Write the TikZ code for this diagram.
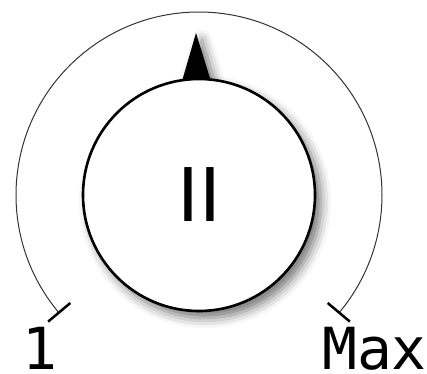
\documentclass[tikz,border=0pt]{standalone}
\usepackage{fontspec}
\setmainfont{DejaVu Sans}
\newfontfamily\monofont{DejaVu Sans Mono}
\usetikzlibrary{calc,shadows.blur}

\tikzset{
  knobshadow/.style={blur shadow={shadow xshift=6pt, shadow yshift=-7pt, shadow blur radius=10pt, shadow opacity=55}},
  scaletick/.style={line width=2.5pt, black},
  scalelabel/.style={anchor=base, inner sep=0pt, font=\monofont\fontsize{58}{58}\selectfont}
}

\begin{document}
\begin{tikzpicture}[x=1pt,y=1pt]
		\useasboundingbox (0,0) rectangle (427,373);
		\coordinate (c) at (199,178);
		% scale
		\draw[line width=1pt, black!80] (c) ++(220:183) arc[start angle=220, end angle=-40, radius=183];
		\draw[scaletick] ($(c)+(220:168)$) -- ($(c)+(220:197)$);
		\draw[scaletick] ($(c)+(-40:168)$) -- ($(c)+(-40:197)$);
		% pointer and knob
		\fill[black, knobshadow] (196,340) -- (213,285) -- (180,285) -- cycle;
		\node[draw, circle, line width=2.6pt, fill=white, minimum size=232pt, inner sep=0pt, knobshadow,
			font=\fontsize{74}{74}\selectfont] (knob) at (c) {II};
		\node[scalelabel] (lo) at (40,4) {1};
		\node[scalelabel] (hi) at (374.5,4) {Max};
	\end{tikzpicture}
\end{document}
